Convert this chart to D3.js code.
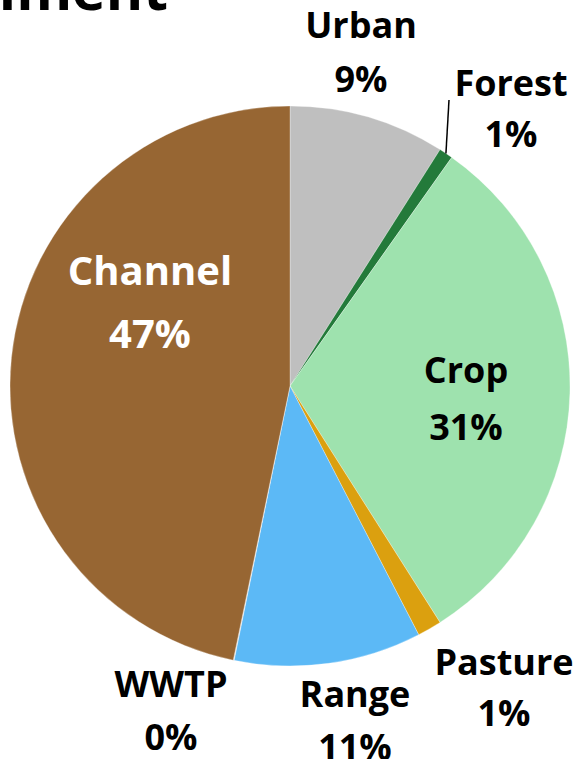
<!DOCTYPE html>
<html>
<head>
<meta charset="utf-8">
<script src="https://cdn.jsdelivr.net/npm/d3@7"></script>
<style>
  html, body { margin: 0; padding: 0; background: #fff; }
  svg { display: block; }
  text { font-family: "Open Sans", sans-serif; font-weight: 700; }
</style>
</head>
<body>
<svg id="chart" width="577" height="759"></svg>
<script>
// ---- data ----
const categories = ["Urban", "Forest", "Crop", "Pasture", "Range", "WWTP", "Channel"];
const shares     = [9.0, 0.8, 31.2, 1.4, 10.8, 0.05, 46.75];
const colors     = ["#BFBFBF", "#237A3A", "#9EE2AE", "#DBA00F", "#5CB9F6", "#D9D9D9", "#976633"];
const titleText  = "Sediment";

// ---- layout (not data) ----
const W = 577, H = 759;
const cx = 290, cy = 386, R = 280;
// label block centre x and two baselines, relative to pie centre
const labelLayout = {
  Urban:   { dx: 71,   y1: -348, y2: -294, color: "#000", size: 36 },
  Forest:  { dx: 221,  y1: -290, y2: -239, color: "#000", size: 36 },
  Crop:    { dx: 176,  y1: -3,   y2: 54,   color: "#000", size: 36 },
  Pasture: { dx: 214,  y1: 289,  y2: 340,  color: "#000", size: 36 },
  Range:   { dx: 65,   y1: 321,  y2: 374,  color: "#000", size: 36 },
  WWTP:    { dx: -119, y1: 311,  y2: 364,  color: "#000", size: 36 },
  Channel: { dx: -140, y1: -101, y2: -38,  color: "#fff", size: 40 }
};
const forestLeaderEnd = { dx: 159, dy: -286 };

const data = categories.map((c, i) => ({ name: c, value: shares[i], color: colors[i] }));
const total = d3.sum(shares);

const svg = d3.select("#chart");

// title (cropped at top)
svg.append("text")
  .attr("x", 168).attr("y", 10)
  .attr("text-anchor", "end")
  .attr("font-size", 57)
  .attr("fill", "#000")
  .text(titleText);

const pie = d3.pie().value(d => d.value).sort(null);
const arc = d3.arc().innerRadius(0).outerRadius(R);
const edgeArc = d3.arc().innerRadius(R).outerRadius(R);

const g = svg.append("g").attr("transform", `translate(${cx},${cy})`);
const arcs = pie(data);

g.selectAll("path.slice")
  .data(arcs)
  .join("path")
  .attr("class", "slice")
  .attr("d", arc)
  .attr("fill", d => d.data.color)
  .attr("stroke", "#fff")
  .attr("stroke-width", 0.3);

// leader line for Forest
const forestArc = arcs.find(a => a.data.name === "Forest");
const p0 = edgeArc.centroid(forestArc);
g.append("line")
  .attr("x1", p0[0]).attr("y1", p0[1])
  .attr("x2", forestLeaderEnd.dx).attr("y2", forestLeaderEnd.dy)
  .attr("stroke", "#000").attr("stroke-width", 1.5);

// labels
const fmt = v => Math.round(v / total * 100) + "%";
arcs.forEach(a => {
  const L = labelLayout[a.data.name];
  const t = g.append("text")
    .attr("text-anchor", "middle")
    .attr("font-size", L.size)
    .attr("fill", L.color);
  t.append("tspan").attr("x", L.dx).attr("y", L.y1).text(a.data.name);
  t.append("tspan").attr("x", L.dx).attr("y", L.y2).text(fmt(a.data.value));
});
</script>
</body>
</html>
